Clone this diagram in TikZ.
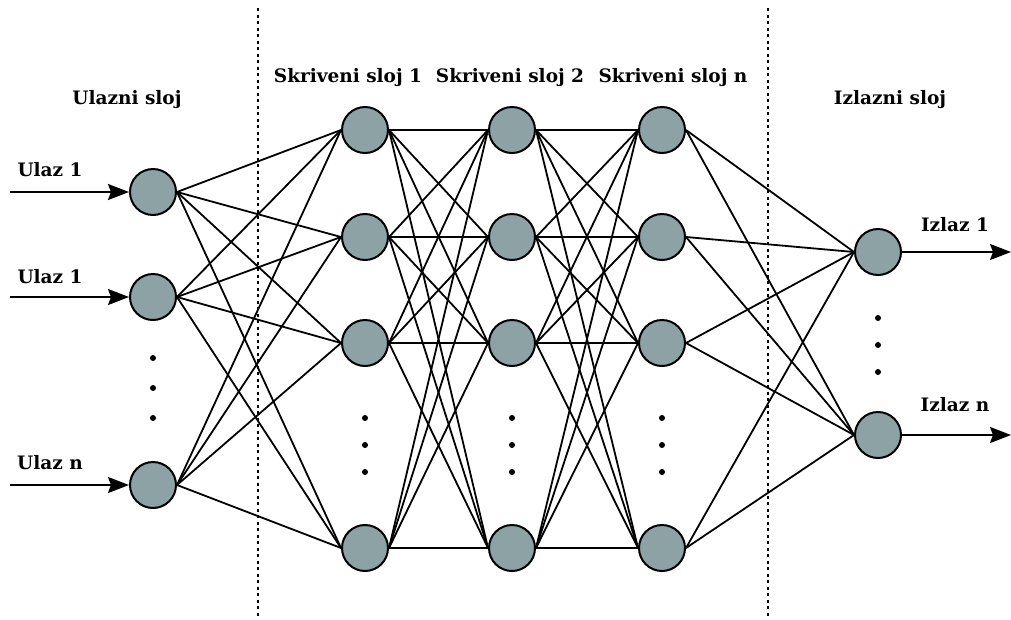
\documentclass[tikz,border=0pt]{standalone}
\usepackage{fontspec}
\setmainfont{DejaVu Serif}
\usetikzlibrary{arrows.meta}
\definecolor{neuron}{RGB}{141,162,164}
\tikzset{
  neuronnode/.style={circle,draw,line width=2pt,fill=neuron,minimum size=46pt,inner sep=0pt},
  layerlabel/.style={font=\fontsize{18.5}{22}\selectfont\bfseries},
  iolabel/.style={font=\fontsize{18.5}{22}\selectfont\bfseries},
  wire/.style={line width=1.8pt},
  ioarrow/.style={line width=2pt,-{Stealth[length=21pt,width=16pt,inset=3pt]}},
  vdot/.style={circle,fill,inner sep=0pt,minimum size=6pt},
  separator/.style={line width=1.6pt,dash pattern=on 3pt off 3.5pt}
}
\begin{document}
\begin{tikzpicture}[x=1pt,y=-1pt]
\useasboundingbox (0,0) rectangle (1011,619);
% layer separators
\draw[separator] (258,8) -- (258,619);
\draw[separator] (768,8) -- (768,619);
% labels
\node[layerlabel] (lin) at (127,100) {Ulazni sloj};
\node[layerlabel] (lh1) at (348,78) {Skriveni sloj 1};
\node[layerlabel] (lh2) at (510,78) {Skriveni sloj 2};
\node[layerlabel] (lh3) at (673,78) {Skriveni sloj n};
\node[layerlabel] (lout) at (890,100) {Izlazni sloj};
% input neurons
\node[neuronnode] (i1) at (153,192) {};
\node[neuronnode] (i2) at (153,297) {};
\node[neuronnode] (i3) at (153,485) {};
\foreach \y in {358,388,418} \node[vdot] at (153,\y) {};
% hidden neurons
\foreach \l/\x in {1/365,2/512,3/662} {
  \foreach \k/\y in {1/130,2/237,3/343,4/548}
    \node[neuronnode] (h\l\k) at (\x,\y) {};
  \foreach \y in {418,445,472} \node[vdot] at (\x,\y) {};
}
% output neurons
\node[neuronnode] (o1) at (878,252) {};
\node[neuronnode] (o2) at (878,435) {};
\foreach \y in {318,345,372} \node[vdot] at (878,\y) {};
% connections
\foreach \a in {1,2,3}
  \foreach \b in {1,2,3,4}
    \draw[wire] (i\a.east) -- (h1\b.west);
\foreach \a in {1,2,3,4}
  \foreach \b in {1,2,3,4} {
    \draw[wire] (h1\a.east) -- (h2\b.west);
    \draw[wire] (h2\a.east) -- (h3\b.west);
  }
\foreach \a in {1,2,3,4}
  \foreach \b in {1,2}
    \draw[wire] (h3\a.east) -- (o\b.west);
% inputs and outputs
\coordinate (u1) at (10,192);
\coordinate (u2) at (10,297);
\coordinate (u3) at (10,485);
\coordinate (z1) at (1011,252);
\coordinate (z2) at (1011,435);
\draw[ioarrow] (u1) -- (i1.west);
\draw[ioarrow] (u2) -- (i2.west);
\draw[ioarrow] (u3) -- (i3.west);
\draw[ioarrow] (o1.east) -- (z1);
\draw[ioarrow] (o2.east) -- (z2);
\node[iolabel] (t1) at (50,170) {Ulaz 1};
\node[iolabel] (t2) at (50,277) {Ulaz 1};
\node[iolabel] (t3) at (50,463) {Ulaz n};
\node[iolabel] (t4) at (955,225) {Izlaz 1};
\node[iolabel] (t5) at (955,405) {Izlaz n};
\end{tikzpicture}
\end{document}
